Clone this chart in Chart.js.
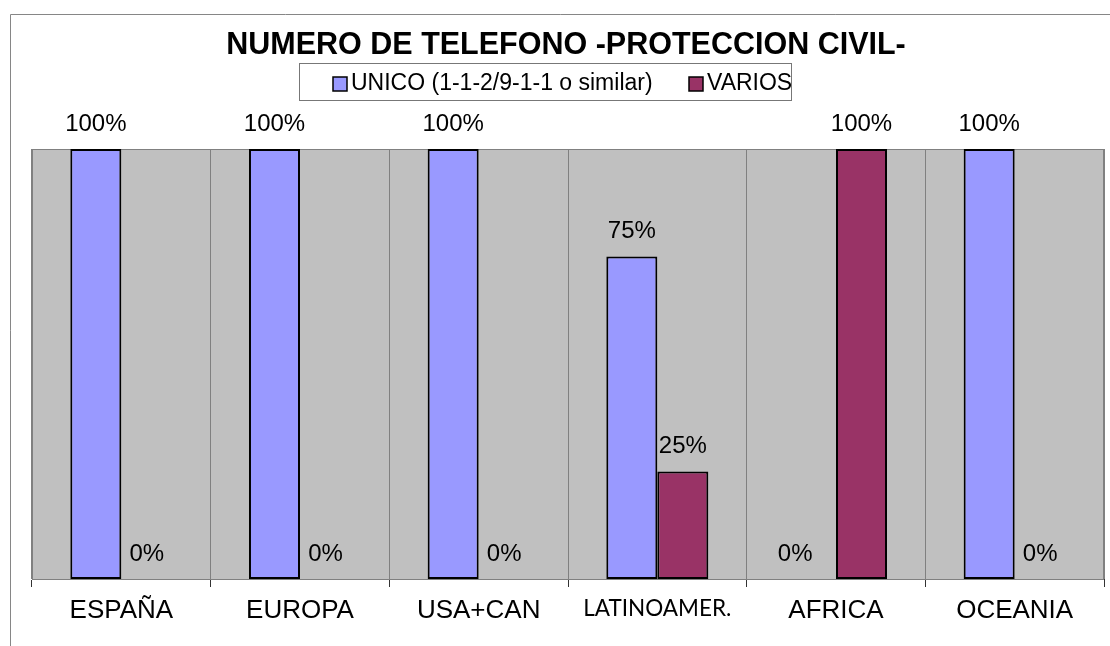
<!DOCTYPE html>
<html>
<head>
<meta charset="utf-8">
<script src="https://cdn.jsdelivr.net/npm/chart.js@4.4.0/dist/chart.umd.min.js"></script>
<style>
    html, body { margin: 0; padding: 0; background: #fff; }
</style>
</head>
<body>
<canvas id="chart" width="1110" height="646"></canvas>
<script>
const CATEGORIES = ['ESPAÑA', 'EUROPA', 'USA+CAN', 'LATINOAMER.', 'AFRICA', 'OCEANIA'];
const UNICO = [1, 1, 1, 0.75, 0, 1];
const VARIOS = [0, 0, 0, 0.25, 1, 0];
const SERIES_LABELS = ['UNICO (1-1-2/9-1-1 o similar)', 'VARIOS'];
const SERIES_COLORS = ['#9999FF', '#993366'];
const TITLE = 'NUMERO DE TELEFONO -PROTECCION CIVIL-';

const FONT = '"Liberation Sans", Arial, sans-serif';

// Excel-like frame, plot fill, title, legend and value labels
const excelLook = {
    id: 'excelLook',
    beforeDraw(chart) {
        const { ctx, chartArea: a } = chart;
        ctx.save();
        ctx.fillStyle = '#fff';
        ctx.fillRect(0, 0, chart.width, chart.height);
        ctx.strokeStyle = '#868686';
        ctx.lineWidth = 1;
        ctx.beginPath();
        ctx.moveTo(10.5, chart.height);
        ctx.lineTo(10.5, 14.5);
        ctx.lineTo(chart.width, 14.5);
        ctx.stroke();
        ctx.fillStyle = '#C0C0C0';
        ctx.fillRect(a.left, a.top, a.right - a.left, a.bottom - a.top);
        ctx.restore();
    },
    beforeDatasetsDraw(chart) {
        const { ctx, chartArea: a } = chart;
        ctx.save();
        ctx.strokeStyle = '#808080';
        ctx.lineWidth = 1;
        ctx.strokeRect(a.left + 0.5, a.top + 0.5, a.right - a.left - 1, a.bottom - a.top);
        ctx.restore();
    },
    afterDatasetsDraw(chart) {
        const { ctx } = chart;
        ctx.save();
        ctx.fillStyle = '#000';
        ctx.font = '24px ' + FONT;
        ctx.textBaseline = 'middle';
        chart.data.datasets.forEach((ds, di) => {
            const meta = chart.getDatasetMeta(di);
            meta.data.forEach((bar, i) => {
                const v = ds.data[i];
                const txt = Math.round(v * 100) + '%';
                let x = bar.x;
                ctx.textAlign = 'center';
                if (v === 0 && di === 0) {
                    ctx.textAlign = 'right';
                    x = bar.x + 2;
                }
                ctx.fillText(txt, x, bar.y - 25);
            });
        });
        ctx.restore();
    },
    afterDraw(chart) {
        const { ctx } = chart;
        ctx.save();
        // title
        ctx.fillStyle = '#000';
        ctx.font = 'bold 30.5px ' + FONT;
        ctx.textAlign = 'center';
        ctx.textBaseline = 'middle';
        ctx.fillText(TITLE, 566, 46);
        // legend box
        ctx.strokeStyle = '#777';
        ctx.lineWidth = 1;
        ctx.strokeRect(299.5, 63.5, 492, 37);
        const items = [
            { x: 333, text: SERIES_LABELS[0], color: SERIES_COLORS[0] },
            { x: 689, text: SERIES_LABELS[1], color: SERIES_COLORS[1] }
        ];
        ctx.font = '23px ' + FONT;
        ctx.textAlign = 'left';
        items.forEach(it => {
            ctx.fillStyle = it.color;
            ctx.fillRect(it.x, 77, 14, 14);
            ctx.strokeStyle = '#000';
            ctx.lineWidth = 1.5;
            ctx.strokeRect(it.x, 77, 14, 14);
            ctx.fillStyle = '#000';
            ctx.fillText(it.text, it.x + 18, 84);
        });
        ctx.restore();
    }
};

new Chart(document.getElementById('chart'), {
    type: 'bar',
    data: {
        labels: CATEGORIES,
        datasets: [
            {
                label: SERIES_LABELS[0],
                data: UNICO,
                backgroundColor: SERIES_COLORS[0],
                borderColor: '#000',
                borderWidth: 2,
                borderSkipped: false
            },
            {
                label: SERIES_LABELS[1],
                data: VARIOS,
                backgroundColor: SERIES_COLORS[1],
                borderColor: '#000',
                borderWidth: 2,
                borderSkipped: false
            }
        ]
    },
    options: {
        responsive: false,
        devicePixelRatio: 1,
        animation: false,
        categoryPercentage: 0.571,
        barPercentage: 1,
        layout: { padding: { left: 32, right: 6, top: 149, bottom: 0 } },
        plugins: {
            legend: { display: false },
            title: { display: false },
            tooltip: { enabled: false }
        },
        scales: {
            y: { display: false, min: 0, max: 1 },
            x: {
                afterFit(scale) { scale.height = 67; },
                border: { color: '#333', width: 1 },
                grid: {
                    offset: true,
                    color: '#808080',
                    tickColor: '#333',
                    tickLength: 8,
                    lineWidth: 1
                },
                ticks: {
                    color: '#000',
                    padding: 8,
                    maxRotation: 0,
                    font: (c) => c.index === 3
                        ? { family: 'Lato, "Open Sans", sans-serif', size: 22.5 }
                        : { family: FONT, size: 26 }
                }
            }
        }
    },
    plugins: [excelLook]
});
</script>
</body>
</html>
